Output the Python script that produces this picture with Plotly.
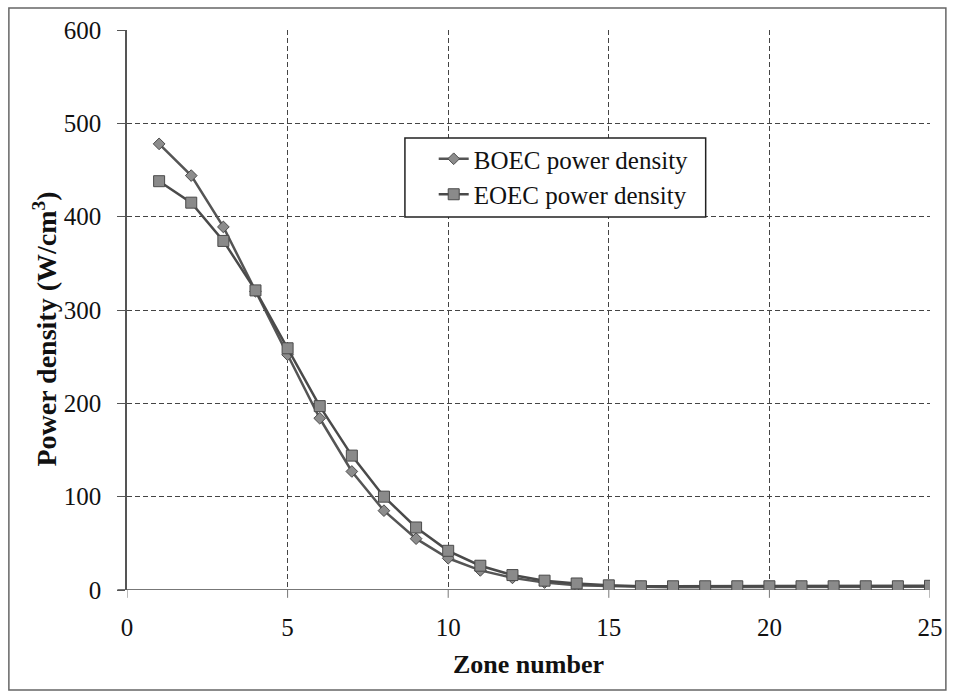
import plotly.graph_objects as go

zones = list(range(1, 26))
boec = [478, 444, 389, 320, 252, 184, 127, 85, 55, 34, 21, 13, 8, 5, 4, 3.5, 3, 3, 3, 3, 3, 3, 3, 3, 3.5]
eoec = [438, 415, 374, 321, 259, 197, 144, 100, 67, 42, 26, 16, 10, 7, 5, 4, 4, 4, 4, 4, 4, 4, 4, 4, 4.5]
x_ticks = [0, 5, 10, 15, 20, 25]
y_ticks = [0, 100, 200, 300, 400, 500, 600]

FONT = "Liberation Serif"
PW, PH, L, T = 809, 560, 127, 30


def px(x):
    return (x - L) / PW


def py(y):
    return (T + PH - y) / PH


fig = go.Figure()
fig.add_trace(go.Scatter(
    x=zones, y=boec, mode="lines+markers", name="BOEC power density",
    line=dict(color="#555555", width=2.5),
    marker=dict(symbol="diamond", size=9, color="#8c8c8c", line=dict(color="#4a4a4a", width=1)),
))
fig.add_trace(go.Scatter(
    x=zones, y=eoec, mode="lines+markers", name="EOEC power density",
    line=dict(color="#4a4a4a", width=2.5),
    marker=dict(symbol="square", size=11, color="#8a8a8a", line=dict(color="#4a4a4a", width=1)),
))

fig.update_layout(
    width=955, height=696,
    margin=dict(l=L, r=955 - L - PW, t=T, b=696 - T - PH),
    paper_bgcolor="white", plot_bgcolor="white",
    font=dict(family=FONT, size=20, color="#111"),
    showlegend=True,
    legend=dict(
        x=px(436), y=py(136), xanchor="left", yanchor="top",
        bgcolor="rgba(0,0,0,0)", borderwidth=0,
        font=dict(family=FONT, size=25, color="#111"),
        tracegroupgap=4, itemwidth=30,
    ),
    xaxis=dict(
        range=[0, 25], tickvals=x_ticks, ticktext=[str(v) for v in x_ticks],
        showgrid=True, gridcolor="#444", griddash="5px,3px", gridwidth=1,
        zeroline=False, showline=False,
        ticks="", ticklabelstandoff=20, tickfont=dict(family=FONT, size=25),
        title=dict(text="<b>Zone number</b>", font=dict(family=FONT, size=26), standoff=14),
    ),
    yaxis=dict(
        range=[0, 600], tickvals=y_ticks, ticktext=[str(v) for v in y_ticks],
        showgrid=True, gridcolor="#444", griddash="5px,3px", gridwidth=1,
        zeroline=False, showline=True, linecolor="#555", linewidth=1.5,
        ticks="outside", ticklen=8, tickcolor="#555",
        ticklabelstandoff=11, tickfont=dict(family=FONT, size=25),
    ),
)

# y-axis title
fig.add_annotation(
    text="<b>Power density (W/cm<sup>3</sup>)</b>", textangle=-90,
    xref="paper", yref="paper", x=px(44), y=py(329),
    xanchor="center", yanchor="middle", showarrow=False,
    font=dict(family=FONT, size=28, color="#111"),
)

# x-axis baseline at y=0 (solid)
fig.add_shape(type="line", xref="paper", yref="y", x0=-0.012, x1=1, y0=0, y1=0,
              line=dict(color="#777", width=2), layer="below")
# small tick marks below x axis
for v in x_ticks:
    fig.add_shape(type="line", xref="x", yref="paper", x0=v, x1=v, y0=0, y1=-0.014,
                  line=dict(color="#777", width=1))
# legend box
fig.add_shape(type="rect", xref="paper", yref="paper",
              x0=px(407), x1=px(710), y0=py(217), y1=py(138),
              fillcolor="white", line=dict(color="#222", width=1.5), layer="above")
# outer frame
fig.add_shape(type="rect", xref="paper", yref="paper",
              x0=px(8), x1=px(952), y0=py(690), y1=py(8),
              line=dict(color="#666", width=1.5))

fig.write_html("out.html")
